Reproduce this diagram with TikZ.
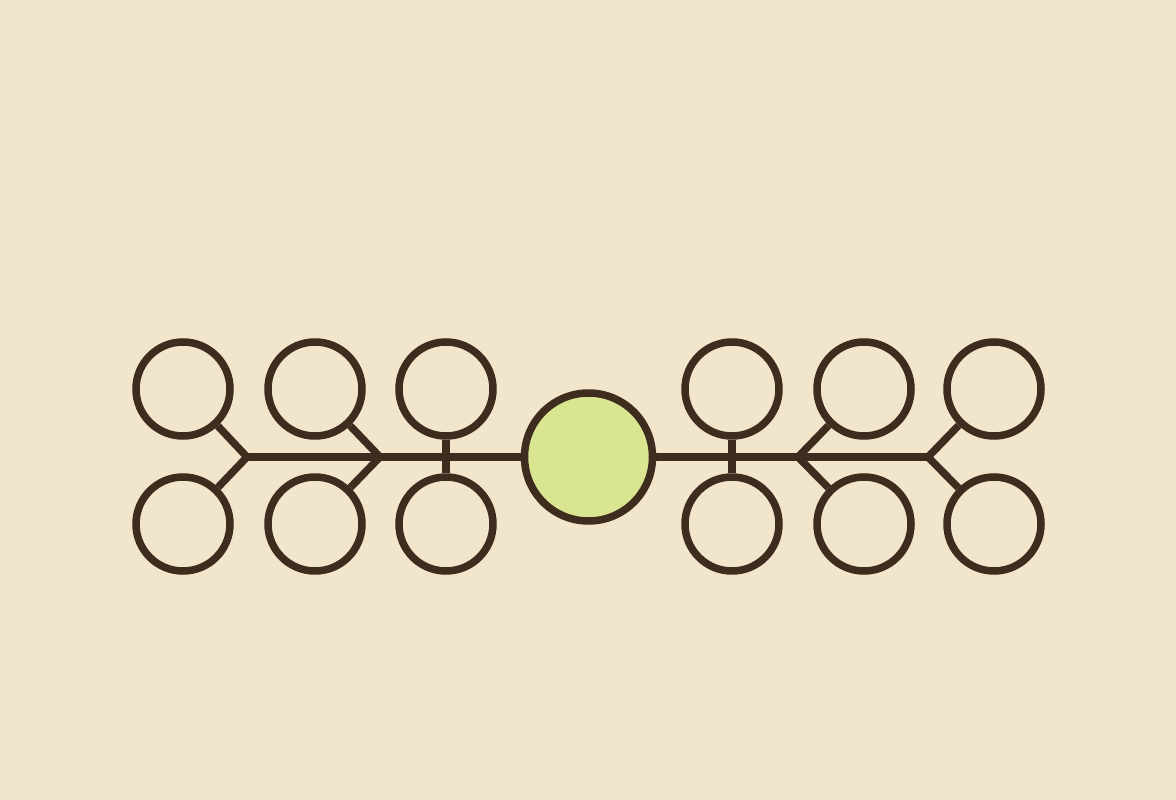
\documentclass[tikz,border=0pt]{standalone}
\usepackage{tikz}
\usetikzlibrary{positioning}
\definecolor{paper}{HTML}{F1E6CB}
\definecolor{ink}{HTML}{3E2C1E}
\definecolor{lime}{HTML}{DAE592}

\begin{document}
\begin{tikzpicture}[x=1pt, y=-1pt, line width=7.5pt, draw=ink,
  leaf/.style={circle, draw=ink, line width=7.5pt, minimum size=94pt, inner sep=0pt},
  hub/.style={circle, draw=ink, fill=lime, line width=7.5pt, minimum size=128pt, inner sep=0pt}]
\fill[paper] (0,0) rectangle (1176,800);
\useasboundingbox (0,0) rectangle (1176,800);
% centre
\node[hub] (hub) at (588.5,457) {};
% left side
\node[leaf] (l1a) at (183,389) {};
\node[leaf] (l1b) at (183,524) {};
\node[leaf] (l2a) at (315,389) {};
\node[leaf] (l2b) at (315,524) {};
\node[leaf] (l3a) at (446,389) {};
\node[leaf] (l3b) at (446,524) {};
\coordinate (fl1) at (247,457);
\coordinate (fl2) at (380,457);
% right side
\node[leaf] (r3a) at (732,389) {};
\node[leaf] (r3b) at (732,524) {};
\node[leaf] (r2a) at (864,389) {};
\node[leaf] (r2b) at (864,524) {};
\node[leaf] (r1a) at (994,389) {};
\node[leaf] (r1b) at (994,524) {};
\coordinate (fr2) at (798,457);
\coordinate (fr1) at (928,457);
% spine
\draw[ink] (fl1) -- (hub);
\draw[ink] (hub) -- (fr1);
% forks
\draw[ink] (l1a) -- (fl1) -- (l1b);
\draw[ink] (l2a) -- (fl2) -- (l2b);
\draw[ink] (r2a) -- (fr2) -- (r2b);
\draw[ink] (r1a) -- (fr1) -- (r1b);
\draw[ink] (l3a) -- (l3b);
\draw[ink] (r3a) -- (r3b);
\end{tikzpicture}
\end{document}
